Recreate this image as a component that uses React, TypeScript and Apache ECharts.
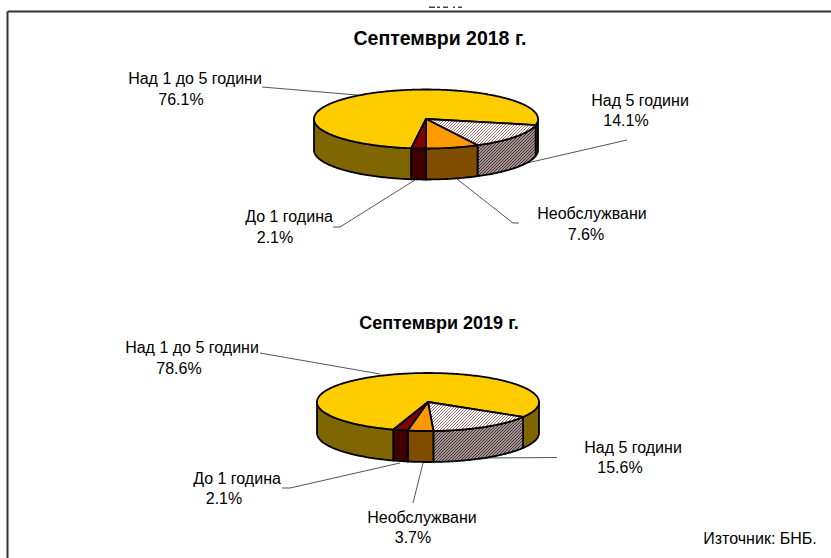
import React, { useEffect, useRef } from "react";
import * as echarts from "echarts";

const categories = ["Над 1 до 5 години", "Над 5 години", "Необслужвани", "До 1 година"];
const values2018 = [76.1, 14.1, 7.6, 2.1];
const values2019 = [78.6, 15.6, 3.7, 2.1];
const titles = ["Септември 2018 г.", "Септември 2019 г."];
const sourceNote = "Източник: БНБ.";

const FONT = '"Liberation Sans", Arial, sans-serif';
const EDGE = "#000000";
const LEADER = "#555555";

function hatch(bg: string, fg: string): any {
  const size = 3;
  const c = document.createElement("canvas");
  c.width = size;
  c.height = size;
  const g = c.getContext("2d")!;
  g.fillStyle = bg;
  g.fillRect(0, 0, size, size);
  g.fillStyle = fg;
  for (let i = 0; i < size; i++) g.fillRect(i, size - 1 - i, 1, 1);
  return { image: c.toDataURL(), repeat: "repeat", imageWidth: size, imageHeight: size };
}

const pt = (p: any, t: number, dy = 0): number[] => {
  const a = (t * Math.PI) / 180;
  return [p.cx + p.rx * Math.sin(a), p.cy - p.ry * Math.cos(a) + dy];
};

const arc = (p: any, a: number, b: number, dy = 0): number[][] => {
  const out: number[][] = [];
  const n = Math.max(1, Math.ceil(Math.abs(b - a)));
  for (let i = 0; i <= n; i++) out.push(pt(p, a + ((b - a) * i) / n, dy));
  return out;
};

function pieSeries(values: number[], p: any, tops: any[], sides: any[]) {
  const total = values.reduce((s, v) => s + v, 0);
  return {
    type: "custom",
    coordinateSystem: "none",
    silent: true,
    data: values.map((v) => [v]),
    renderItem: (params: any, api: any) => {
      let before = 0;
      for (let i = 0; i < params.dataIndex; i++) before += values[i];
      const start = p.start + (before / total) * 360;
      const end = start + (api.value(0) / total) * 360;
      const children: any[] = [];
      const style = (fill: any) => ({ fill, stroke: EDGE, lineWidth: 1.8, lineJoin: "round" });
      for (const off of [0, 360, -360]) {
        const a = Math.max(start, 90 + off);
        const b = Math.min(end, 270 + off);
        if (b > a) {
          children.push({
            type: "polygon",
            shape: { points: [...arc(p, a, b), ...arc(p, b, a, p.depth)] },
            style: style(sides[params.dataIndex]),
          });
        }
      }
      children.push({
        type: "polygon",
        shape: { points: [[p.cx, p.cy], ...arc(p, start, end)] },
        style: style(tops[params.dataIndex]),
      });
      return { type: "group", children };
    },
  };
}

const pie2018 = { cx: 426, cy: 119, rx: 112, ry: 29.5, depth: 31, start: 187.56 };
const pie2019 = { cx: 428, cy: 402, rx: 111, ry: 29, depth: 31, start: 198.1 };

const labels2018 = [
  [195, 78, 181, 99],
  [640, 100, 626, 120],
  [592, 213, 586, 234],
  [289, 216, 275, 237],
];
const labels2019 = [
  [192, 347, 179, 368],
  [633, 447, 620, 467],
  [422, 517, 413, 537],
  [237, 478, 224, 498],
];
const leaders: number[][][] = [
  [[262, 87], [357, 95]],
  [[527, 163], [627, 140]],
  [[457, 179], [513, 223], [519, 223]],
  [[415, 180], [340, 227], [333, 227]],
  [[260, 353], [380, 374]],
  [[482, 458], [557, 457.5]],
  [[423, 463], [413, 503]],
  [[400, 463], [290, 488], [282, 488]],
];
const topResidue = [[429, 435], [437, 440], [443, 448], [453, 455], [458, 462]];

function labelTexts(values: number[], pos: number[][]): any[] {
  const out: any[] = [];
  values.forEach((v, i) => {
    const common = { fill: "#000", font: `16px ${FONT}`, align: "center", verticalAlign: "middle" };
    out.push({ type: "text", style: { ...common, text: categories[i], x: pos[i][0], y: pos[i][1] } });
    out.push({ type: "text", style: { ...common, text: `${v.toFixed(1)}%`, x: pos[i][2], y: pos[i][3] } });
  });
  return out;
}

export default function App() {
  const ref = useRef<HTMLDivElement>(null);
  useEffect(() => {
    document.body.style.margin = "0";
    const chart = echarts.init(ref.current!, undefined, { renderer: "svg" });
    const tops = ["#FFCC00", hatch("#FFFFFF", "#A87070"), "#FF9900", "#800000"];
    const sides = ["#806600", hatch("#A09494", "#4A3030"), "#804D00", "#400000"];
    const frame = { stroke: "#333333", lineWidth: 2 };
    chart.setOption({
      animation: false,
      backgroundColor: "#ffffff",
      title: [
        { text: titles[0], left: 435, top: 23, textAlign: "center",
          textStyle: { fontFamily: FONT, fontSize: 19.5, fontWeight: "bold", color: "#000" } },
        { text: titles[1], left: 434, top: 309, textAlign: "center",
          textStyle: { fontFamily: FONT, fontSize: 18, fontWeight: "bold", color: "#000" } },
      ],
      graphic: [
        { type: "line", shape: { x1: 7.5, y1: 11.5, x2: 831, y2: 11.5 }, style: frame },
        { type: "line", shape: { x1: 7.5, y1: 11.5, x2: 7.5, y2: 558 }, style: frame },
        ...topResidue.map(([a, b]) => ({
          type: "rect", shape: { x: a, y: 6.5, width: b - a, height: 1.5 }, style: { fill: "#444" },
        })),
        ...leaders.map((points) => ({
          type: "polyline", shape: { points }, style: { stroke: LEADER, lineWidth: 1, fill: "none" },
        })),
        ...labelTexts(values2018, labels2018),
        ...labelTexts(values2019, labels2019),
        { type: "text", style: { text: sourceNote, x: 760, y: 538, fill: "#000", font: `16px ${FONT}`, align: "center", verticalAlign: "middle" } },
      ],
      series: [pieSeries(values2018, pie2018, tops, sides), pieSeries(values2019, pie2019, tops, sides)],
    });
    return () => chart.dispose();
  }, []);
  return <div ref={ref} style={{ width: 831, height: 558 }} />;
}
